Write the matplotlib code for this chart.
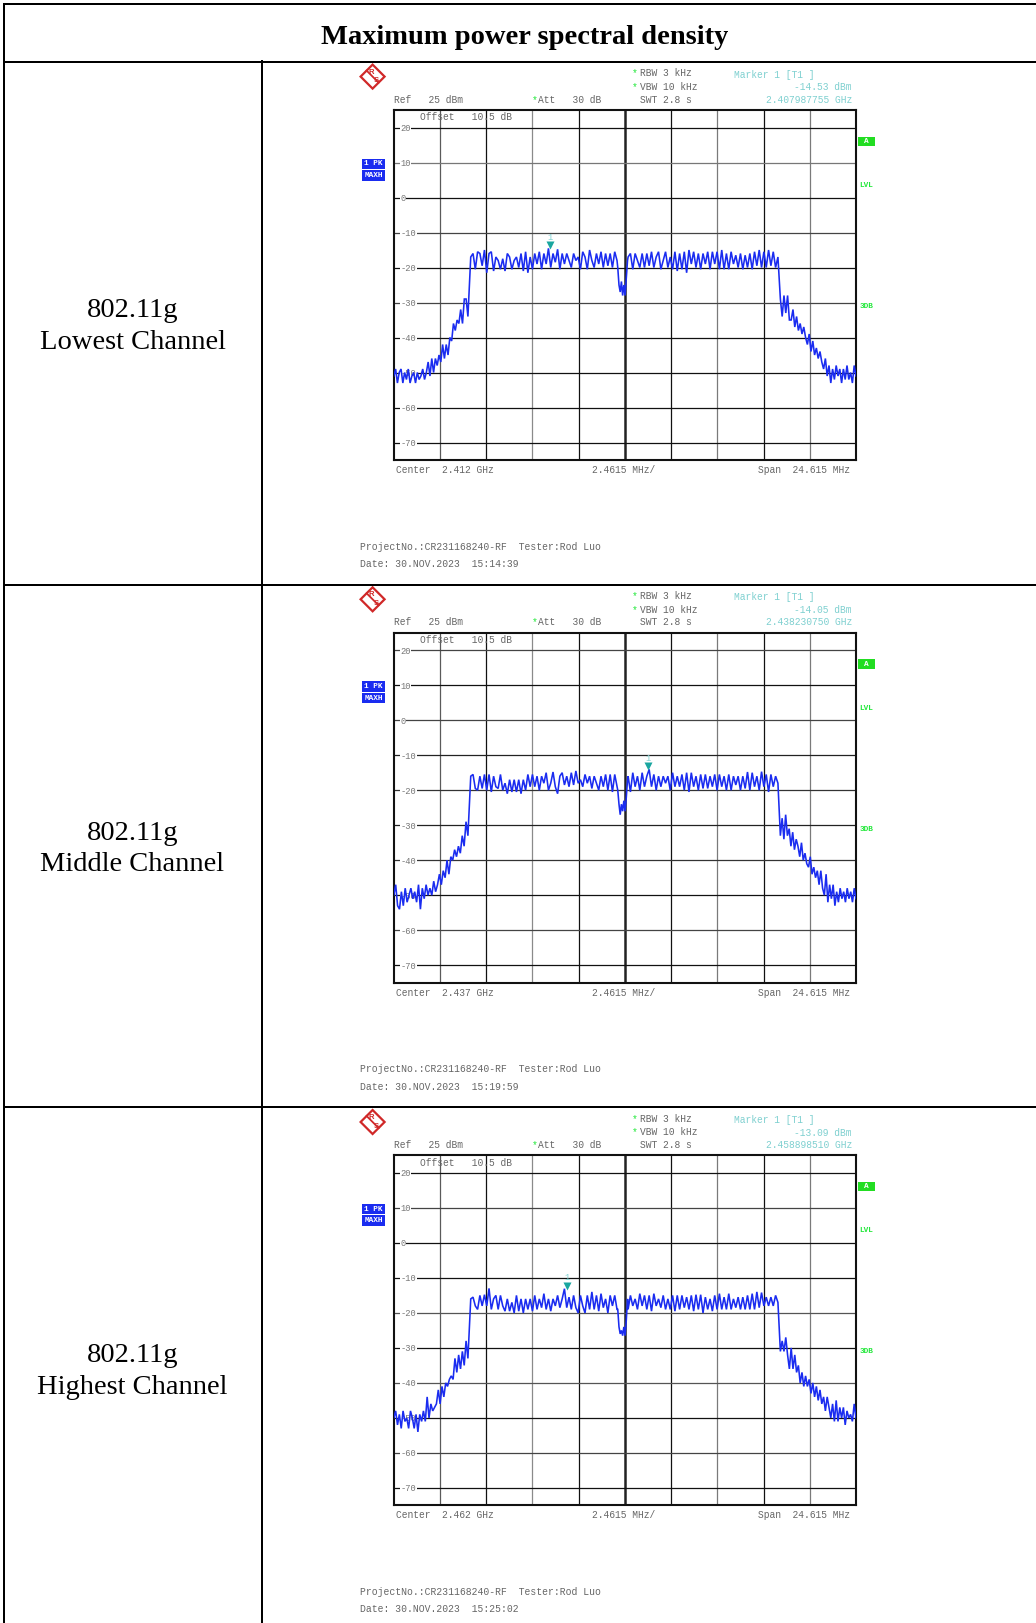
import numpy as np
import matplotlib
matplotlib.use("Agg")
import matplotlib.pyplot as plt
from matplotlib.patches import Polygon, Rectangle

W, H = 1036, 1623
SERIF = "Liberation Serif"
MONO = "Liberation Mono"

# ---------- data ----------
channel_rows = ["Lowest Channel", "Middle Channel", "Highest Channel"]
centers = ["2.412", "2.437", "2.462"]
center_ghz = [2.412, 2.437, 2.462]
marker_ghz = [2.407987755, 2.438230750, 2.458898510]
marker_dbm = [-14.53, -14.05, -13.09]
marker_freq_text = ["2.407987755", "2.438230750", "2.458898510"]
timestamps = ["15:14:39", "15:19:59", "15:25:02"]
y_ticks = [20, 10, 0, -10, -20, -30, -40, -50, -60, -70]
seg_edges = [(-12.3075, -8.36), (-8.21, -0.42), (-0.38, 0.14), (0.17, 8.15), (8.28, 12.3075)]

low_skirt_l = [-51,-49,-53,-50,-49,-53,-50,-52,-49,-53,-51,-50,-53,-50,-52,-51,-49,-52,-50,-47,-51,-46,-50,-46,-48,-45,-47,-42,-46,-42,-45,-40,-41,-36,-38,-35,-36,-32,-36,-29,-29,-34]
low_flat_l = [-17,-16,-20.5,-15.5,-16,-19.5,-15,-21.5,-16,-15.5,-21,-17,-18,-20.5,-17.5,-21,-16,-17,-20.5,-18,-17,-20,-16,-21,-15.5,-21.5,-17,-20.5,-16,-19,-15.5,-20.5,-16,-19,-14.53,-20,-16,-18.5,-14.8,-20.5,-16,-19,-16,-18,-20,-16,-18,-17,-20.5,-15.5,-17,-20.5,-15,-18,-20,-16,-19,-15.5,-20,-16,-19.5,-16,-20,-15.5,-18]
low_dip = [-20,-25,-27,-24,-28,-25,-28,-23,-18]
low_flat_r = [-17,-16,-20.5,-16,-18,-20,-16,-20,-16,-19.5,-15.5,-20,-17,-15.5,-20.5,-18,-15.5,-20,-17,-20.5,-15.5,-21,-16,-20.5,-15.5,-21.5,-15,-19,-15.5,-20,-16,-20.5,-16,-19,-15.5,-20.5,-15.5,-19,-15.5,-20.5,-15,-20.5,-16,-20.5,-15.5,-19,-16.5,-20,-16,-20.5,-16.5,-20,-16,-20.5,-15.5,-19.5,-15,-20,-15.5,-20,-15,-19.5,-15.5,-20,-17]
low_skirt_r = [-29,-34,-28,-33,-28,-35,-35,-32,-37,-34,-38,-36,-39,-37,-40,-42,-39,-44,-41,-45,-43,-46,-44,-47,-49,-46,-51,-48,-53,-49,-52,-48,-51,-49,-53,-49,-52,-48,-52,-50,-53,-48,-51]

mid_skirt_l = [-50,-47,-53,-54,-49,-53,-48,-52,-50,-48,-51,-49,-52,-47,-54,-48,-51,-47,-50,-48,-50,-46,-49,-47,-44,-47,-43,-45,-40,-44,-39,-40,-37,-39,-36,-38,-33,-36,-29,-33]
mid_flat_l = [-16,-15.5,-19.5,-20,-16,-19.5,-15.5,-20,-15.5,-20.5,-16,-19,-19.5,-15.5,-20,-18,-21,-17,-20.5,-17,-20.5,-17,-21,-17,-20,-15.5,-19,-15.5,-19,-16,-20,-16,-18,-15,-20,-18,-14.8,-19,-21,-16,-15,-18.5,-16,-19,-15,-18.5,-14.5,-18,-17,-19,-15.5,-18,-16,-19.5,-16,-18,-20,-16,-19,-15.5,-20,-15.5,-20.5,-15.5,-19]
mid_dip = [-20,-24,-27,-24,-26,-23,-26,-22,-17]
mid_flat_r = [-16,-20.5,-15,-19,-16,-20,-15,-19,-16,-14.05,-19,-15.5,-20,-16,-19,-16,-18,-16,-20,-15,-19,-16,-19,-15.5,-20,-15,-20.5,-15,-19,-16,-20,-15.5,-19.5,-15.5,-19.5,-16,-19,-15.5,-20,-15.5,-19,-16,-20,-15.5,-20,-16,-18.5,-16,-20,-16,-19.5,-14.8,-20,-15,-19,-16,-20,-14.7,-19,-15.5,-20.5,-15.5,-19,-16,-18]
mid_skirt_r = [-33,-28,-34,-27,-33,-31,-36,-32,-37,-34,-36,-39,-35,-40,-38,-41,-42,-39,-44,-42,-45,-43,-47,-43,-48,-50,-44,-52,-47,-51,-47,-53,-49,-52,-48,-51,-49,-52,-48,-51,-49,-52,-48,-51]

high_skirt_l = [-50,-48,-52,-49,-53,-48,-51,-50,-53,-48,-50,-53,-49,-54,-49,-51,-48,-51,-44,-50,-46,-48,-47,-46,-42,-46,-41,-44,-40,-41,-39,-38,-39,-33,-37,-32,-36,-31,-35,-28,-33]
high_flat_l = [-16,-15.5,-18,-19,-15,-18,-14.8,-18,-13,-19,-16,-15,-19,-15,-18,-19.5,-16,-19.5,-17,-20,-15,-19.5,-16,-20,-16,-19,-16,-19.5,-15,-19,-16,-18.5,-14.5,-19,-16,-19.5,-16,-18,-15,-18.5,-16,-13.09,-18.5,-15.5,-19,-15,-18.5,-20,-15,-18,-20,-15,-19,-14,-19,-15,-19.5,-14.5,-18.5,-16,-20,-15,-18,-15,-19]
high_dip = [-19,-24,-26,-25,-26.5,-24,-26.5,-22,-16]
high_flat_r = [-19,-15,-18,-16,-19,-14.5,-18,-15,-19,-15,-19.5,-14.5,-18,-16,-18.5,-15,-19,-16,-19,-15,-19.5,-15,-19,-15,-18.5,-15.5,-19,-15,-19.5,-14.8,-19,-14.8,-20,-15.5,-19,-16,-19.5,-15,-19,-14.5,-19,-15.5,-19,-14.5,-19,-16,-18.5,-15.5,-19,-15.5,-19,-15,-19,-14.5,-19,-14,-18.5,-14.2,-18,-15.5,-18,-15.5,-18,-15,-17]
high_skirt_r = [-31,-28,-31,-27,-32,-36,-30,-36,-32,-37,-35,-40,-37,-41,-38,-41,-39,-43,-40,-44,-41,-45,-42,-46,-44,-48,-44,-47,-50,-46,-51,-45,-51,-47,-50,-47,-52,-48,-50,-49,-51,-46,-50]

traces = [
    [low_skirt_l, low_flat_l, low_dip, low_flat_r, low_skirt_r],
    [mid_skirt_l, mid_flat_l, mid_dip, mid_flat_r, mid_skirt_r],
    [high_skirt_l, high_flat_l, high_dip, high_flat_r, high_skirt_r],
]

# ---------- styling ----------
GREY = "#666666"
TEAL = "#7fd0d0"
GREEN = "#22e83a"
BLUE = "#1a2cf0"
RED = "#d02828"
v_cols = ["#5a5a5a", "#111111", "#8a8a8a", "#111111", "#222222", "#111111", "#7a7a7a", "#111111", "#7a7a7a"]
h_cols = {0: ["#111111", "#777777", "#111111", "#444444", "#111111", "#444444", "#111111", "#111111", "#111111", "#111111"],
          1: ["#444444", "#111111", "#444444", "#222222", "#333333", "#222222", "#333333", "#111111", "#444444", "#111111"],
          2: ["#111111", "#444444", "#111111", "#111111", "#555555", "#111111", "#555555", "#111111", "#444444", "#111111"]}

fig = plt.figure(figsize=(W / 100, H / 100), dpi=100, facecolor="white")
page = fig.add_axes([0, 0, 1, 1], zorder=5)
page.set_xlim(0, W)
page.set_ylim(H, 0)
page.axis("off")
page.patch.set_alpha(0)

# table rules
LW = 2 * 0.72
for y in (4, 62, 585, 1106.5):
    page.plot([3, W], [y, y], color="black", lw=LW, solid_capstyle="butt")
page.plot([4, 4], [3, H], color="black", lw=LW, solid_capstyle="butt")
page.plot([262, 262], [60, H], color="black", lw=LW, solid_capstyle="butt")

page.text(525, 37, "Maximum power spectral density", family=SERIF, weight="bold",
          fontsize=20.5, ha="center", va="center", color="black")

PLOT_L, PLOT_R = 393.8, 856.0
PLOT_TOPS = [110.0, 632.7, 1155.4]
PLOT_H = 350.0
LABEL_Y = [(310.6, 342.5), (833.3, 864.8), (1355.5, 1388)]


def small(x, y, s, color=GREY, ha="left", size=6.9, **kw):
    page.text(x, y, s, family=MONO, fontsize=size, color=color, ha=ha, va="center", **kw)


for i in range(3):
    top = PLOT_TOPS[i]
    dy = top - PLOT_TOPS[0]

    y1, y2 = LABEL_Y[i]
    page.text(132.5, y1, "802.11g", family=SERIF, fontsize=20.5, ha="center", va="center", color="black")
    page.text(132.5, y2, channel_rows[i], family=SERIF, fontsize=20.5, ha="center", va="center", color="black")

    ax = fig.add_axes([PLOT_L / W, 1 - (top + PLOT_H) / H, (PLOT_R - PLOT_L) / W, PLOT_H / H], zorder=2)
    ax.set_xlim(-12.3075, 12.3075)
    ax.set_ylim(-75, 25)
    ax.set_xticks([])
    ax.set_yticks([])
    for s in ax.spines.values():
        s.set_linewidth(1.5)
        s.set_color("#111111")

    for k, xv in enumerate(np.arange(-4, 5) * 2.4615):
        ax.axvline(xv, color=v_cols[k], lw=1.8 if k == 4 else 0.9, zorder=1)
    for k, yv in enumerate(y_ticks):
        ax.axhline(yv, color=h_cols[i][k], lw=0.9, zorder=1)
        ax.annotate(str(yv), xy=(0.0145, yv - 0.3), xycoords=("axes fraction", "data"), family=MONO,
                    fontsize=6.3, color="#777777", va="center", ha="left", zorder=2,
                    bbox=dict(facecolor="white", edgecolor="none", pad=0.3))

    xs = np.concatenate([np.linspace(a, b, len(seg)) for (a, b), seg in zip(seg_edges, traces[i])])
    ys = np.concatenate([np.asarray(seg, dtype=float) for seg in traces[i]])
    ax.plot(xs, ys, color=BLUE, lw=1.15, zorder=3, solid_joinstyle="miter")

    # marker 1
    mx = (marker_ghz[i] - center_ghz[i]) * 1000
    ax.plot([mx], [marker_dbm[i] + 0.9], marker="v", ms=5.2, color="#1aa6a0", mec="none", zorder=4)
    ax.annotate("1", xy=(mx, marker_dbm[i]), xytext=(0, 4.5), textcoords="offset points", ha="center",
                va="bottom", family=MONO, fontsize=6.3, color=TEAL, zorder=4)

    # logo
    cx, cy, r = 372.6, 76.6 + dy, 12
    page.add_patch(Polygon([(cx, cy - r), (cx + r, cy), (cx, cy + r), (cx - r, cy)], closed=True,
                           fill=False, ec=RED, lw=1.6))
    page.plot([cx - r * 0.5, cx + r * 0.5], [cy - r * 0.5, cy + r * 0.5], color=RED, lw=1.3)
    page.text(cx - 1, cy - 4.5, "R", family="Liberation Sans", weight="bold", fontsize=5.5, color=RED, ha="center", va="center")
    page.text(cx + 4, cy + 4, "S", family="Liberation Sans", weight="bold", fontsize=5.5, color=RED, ha="center", va="center")

    # header texts
    small(394.3, 99.6 + dy, "Ref   25 dBm")
    small(531.5, 99.6 + dy, "*", color=GREEN)
    small(538, 99.6 + dy, "Att   30 dB")
    small(632, 73.5 + dy, "*", color=GREEN)
    small(639.6, 73.5 + dy, "RBW 3 kHz")
    small(632, 87 + dy, "*", color=GREEN)
    small(639.6, 87 + dy, "VBW 10 kHz")
    small(639.6, 99.6 + dy, "SWT 2.8 s")
    small(733.8, 74.5 + dy, "Marker 1 [T1 ]", color=TEAL)
    small(852, 87.5 + dy, f"{marker_dbm[i]:.2f} dBm", color=TEAL, ha="right")
    small(852, 99.6 + dy, f"{marker_freq_text[i]} GHz", color=TEAL, ha="right")
    small(420, 117.5 + dy, "Offset   10.5 dB")

    # bottom texts
    small(396.4, 470 + dy, f"Center  {centers[i]} GHz")
    small(592, 470 + dy, "2.4615 MHz/")
    small(849.5, 470 + dy, "Span  24.615 MHz", ha="right")
    small(360.5, 546.7 + dy, "ProjectNo.:CR231168240-RF  Tester:Rod Luo", size=7.0)
    small(360.5, 564 + dy, f"Date: 30.NOV.2023  {timestamps[i]}", size=7.0)

    # side badges
    page.add_patch(Rectangle((362, 158.5 + dy), 23, 10.5, fc="#1a2cf0", ec="none"))
    page.add_patch(Rectangle((362, 170 + dy), 23, 10.5, fc="#1a2cf0", ec="none"))
    small(373.5, 163.8 + dy, "1 PK", color="white", ha="center", size=5.6, weight="bold")
    small(373.5, 175.3 + dy, "MAXH", color="white", ha="center", size=5.6, weight="bold")
    page.add_patch(Rectangle((858, 136.5 + dy), 17, 9.5, fc="#22dd22", ec="none"))
    small(866.5, 141.3 + dy, "A", color="white", ha="center", size=5.6, weight="bold")
    small(866.5, 185.5 + dy, "LVL", color=GREEN, ha="center", size=5.6, weight="bold")
    small(866.5, 306.5 + dy, "3DB", color=GREEN, ha="center", size=5.6, weight="bold")

fig.savefig("out.png", dpi=100, facecolor="white")
